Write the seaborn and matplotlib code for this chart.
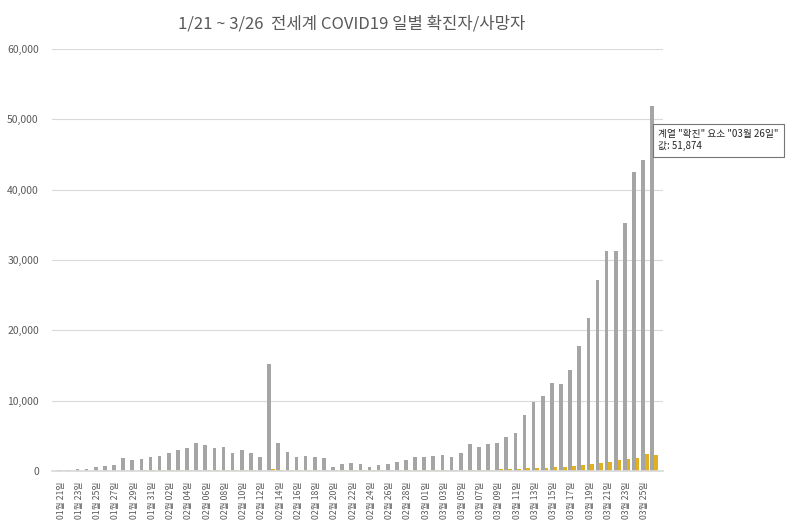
import matplotlib
matplotlib.use("Agg")
import matplotlib.pyplot as plt
import seaborn as sns
import pandas as pd
import numpy as np
from matplotlib.ticker import FuncFormatter

sns.set_theme(style="white")
plt.rcParams['font.family'] = ['Noto Sans CJK KR', 'DejaVu Sans']

dates = ([f"01월 {d:02d}일" for d in range(21, 32)] +
         [f"02월 {d:02d}일" for d in range(1, 30)] +
         [f"03월 {d:02d}일" for d in range(1, 27)])
confirmed = [150, 100, 250, 300, 500, 700, 800, 1800, 1500, 1700, 2000,
             2100, 2600, 2900, 3200, 3900, 3700, 3200, 3400, 2600, 2900, 2500, 2000, 15200,
             4000, 2700, 2000, 2100, 1900, 1800, 500, 1000, 1100, 1000, 500, 800, 900, 1200,
             1500, 1900,
             2000, 2100, 2200, 2000, 2600, 3800, 3400, 3800, 4000, 4800, 5400, 8000, 9800,
             10600, 12500, 12300, 14300, 17700, 21800, 27200, 31300, 31300, 35200, 42500,
             44200, 51874]
deaths = [10, 10, 10, 15, 20, 25, 30, 40, 40, 45, 45,
          45, 60, 65, 65, 70, 75, 85, 90, 100, 110, 100, 10, 250,
          140, 140, 110, 100, 130, 120, 110, 120, 110, 150, 130, 70, 60, 60,
          60, 60,
          60, 70, 80, 80, 100, 100, 100, 110, 200, 200, 300, 350, 350, 400, 500, 600,
          700, 800, 900, 1100, 1200, 1600, 1700, 1800, 2400, 2300][:66]

df = pd.DataFrame({"date": dates * 2,
                   "value": confirmed + deaths,
                   "series": ["확진"] * len(dates) + ["사망"] * len(dates)})

fig = plt.figure(figsize=(8, 5.29), dpi=100)
ax = fig.add_axes([0.065, 0.11, 0.764, 0.797])
sns.barplot(data=df, x="date", y="value", hue="series", order=dates,
            palette={"확진": "#A5A5A5", "사망": "#FFC000"}, width=0.8,
            legend=False, ax=ax, linewidth=0)
ax.set_ylim(0, 60000)
ax.set_yticks(range(0, 60001, 10000))
ax.yaxis.set_major_formatter(FuncFormatter(lambda v, p: f"{int(v):,}"))
ax.grid(axis="y", color="#D9D9D9", lw=0.8)
ax.set_axisbelow(True)
ax.set_xlabel(""); ax.set_ylabel("")
ax.set_xticks(range(0, len(dates), 2))
ax.set_xticklabels(dates[::2], rotation=90, fontsize=6.3, color="#595959")
ax.tick_params(axis="y", labelsize=7.5, colors="#595959")
ax.tick_params(axis="x", pad=2)
for s in ["top", "right", "left"]:
    ax.spines[s].set_visible(False)
ax.spines["bottom"].set_color("#D9D9D9")
ax.set_xlim(-1, len(dates))
fig.text(0.44, 0.955, "1/21 ~ 3/26  전세계 COVID19 일별 확진자/사망자", ha="center",
         va="center", fontsize=12, color="#595959")
fig.text(0.823, 0.735, '계열 "확진" 요소 "03월 26일"\n값: 51,874', fontsize=7,
         va="center", bbox=dict(facecolor="white", edgecolor="#767676", lw=0.8))
fig.savefig("out.png", dpi=100)
